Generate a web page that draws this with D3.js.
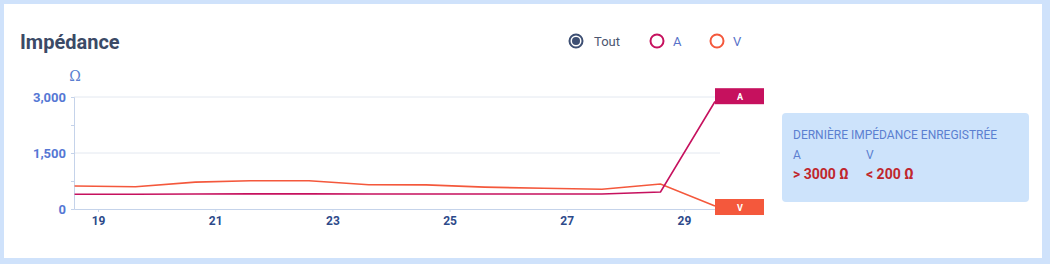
<!DOCTYPE html>
<html>
<head>
<meta charset="utf-8">
<script src="https://cdn.jsdelivr.net/npm/d3@7"></script>
<style>
  body { margin: 0; background: #cfe2fb; }
  svg { display: block; font-family: Roboto, "Noto Sans", sans-serif; }
</style>
</head>
<body>
<div id="chart"></div>
<script>
// days of the month (fractional = time of the reading)
const DAYS = [18.6, 19.64, 20.66, 21.6, 22.6, 23.62, 24.6, 25.6, 26.6, 27.6, 28.6, 29.53];
const SERIES_A = [395, 395, 400, 405, 405, 400, 400, 400, 400, 400, 455, 2880];
const SERIES_V = [615, 598, 720, 755, 758, 650, 645, 585, 555, 530, 670, 80];
const Y_TICKS = [0, 750, 1500, 2250, 3000];
const Y_LABELS = [0, 1500, 3000];
const X_TICKS = [19, 21, 23, 25, 27, 29];
const LEGEND = ["Tout", "A", "V"];
const LAST = { A: "> 3000 Ω", V: "< 200 Ω" };

const W = 1050, H = 264;
const COLORS = { A: "#c6115e", V: "#f4583c", Tout: "#3d4f73" };

const svg = d3.select("#chart").append("svg")
    .attr("width", W)
    .attr("height", H);

// card
svg.append("rect")
    .attr("x", 4).attr("y", 4)
    .attr("width", 1038).attr("height", 254)
    .attr("fill", "#fff");

svg.append("text")
    .attr("x", 20).attr("y", 49)
    .attr("font-size", 20)
    .attr("font-weight", 700)
    .attr("fill", "#3b4a66")
    .text("Impédance");

// legend (radio buttons)
const legendX = [576, 657, 717];
const leg = svg.append("g").selectAll("g")
    .data(LEGEND)
    .join("g")
    .attr("transform", (d, i) => `translate(${legendX[i]},41)`);
leg.append("circle")
    .attr("r", 6.5)
    .attr("fill", "none")
    .attr("stroke", d => COLORS[d])
    .attr("stroke-width", 2);
leg.filter(d => d === "Tout").append("circle")
    .attr("r", 4)
    .attr("fill", COLORS.Tout);
leg.append("text")
    .attr("x", (d, i) => i === 0 ? 18 : 16)
    .attr("y", 4.5)
    .attr("font-size", 13)
    .attr("fill", d => d === "Tout" ? "#4b5670" : "#5872c9")
    .text(d => d);

// plot
const x = d3.scaleLinear().domain([18.59, 29.53]).range([74, 715]);
const y = d3.scaleLinear().domain([0, 3000]).range([209, 97]);

svg.append("g").selectAll("line")
    .data(Y_LABELS.filter(v => v > 0))
    .join("line")
    .attr("x1", 74).attr("x2", 720)
    .attr("y1", d => y(d)).attr("y2", d => y(d))
    .attr("stroke", "#e3e8f0");

const yAxis = svg.append("g")
    .attr("transform", "translate(74,0)")
    .call(d3.axisLeft(y).tickValues(Y_TICKS).tickSize(3).tickPadding(5)
        .tickFormat(d => Y_LABELS.includes(d) ? d3.format(",")(d) : ""));
yAxis.select(".domain").attr("stroke", "#c5d3ea");
yAxis.selectAll(".tick line").attr("stroke", "#c5d3ea");
yAxis.selectAll("text")
    .attr("font-size", 13)
    .attr("font-weight", 700)
    .attr("font-family", "Roboto, sans-serif")
    .attr("fill", "#5577d4");

const xAxis = svg.append("g")
    .attr("transform", "translate(0,209)")
    .call(d3.axisBottom(x).tickValues(X_TICKS).tickSize(3).tickPadding(4).tickSizeOuter(0));
xAxis.select(".domain").attr("stroke", "#c5d3ea");
xAxis.selectAll(".tick line").attr("stroke", "#c5d3ea");
xAxis.selectAll("text")
    .attr("font-size", 12)
    .attr("font-weight", 700)
    .attr("font-family", "Roboto, sans-serif")
    .attr("fill", "#2d4a8a");

svg.append("text")
    .attr("x", 75).attr("y", 81)
    .attr("text-anchor", "middle")
    .attr("font-size", 14)
    .attr("font-family", "'DejaVu Serif', serif")
    .attr("fill", "#5b7fd0")
    .text("Ω");

const line = d3.line().x((d, i) => x(DAYS[i])).y(d => y(d));
[["V", SERIES_V], ["A", SERIES_A]].forEach(([k, vals]) => {
    svg.append("path")
        .datum(vals)
        .attr("fill", "none")
        .attr("stroke", COLORS[k])
        .attr("stroke-width", 1.6)
        .attr("d", line);
});

// end labels
[["A", SERIES_A], ["V", SERIES_V]].forEach(([k, vals]) => {
    const v = Math.max(60, Math.min(3000, vals[vals.length - 1]));
    const cy = k === "A" ? y(3000) - 0.8 : y(v) + 1;
    const g = svg.append("g").attr("transform", `translate(${x(DAYS[DAYS.length - 1])},${cy})`);
    g.append("rect")
        .attr("x", 0).attr("y", -8)
        .attr("width", 49).attr("height", 16)
        .attr("fill", COLORS[k]);
    g.append("text")
        .attr("x", 25).attr("y", 3.5)
        .attr("text-anchor", "middle")
        .attr("font-size", 9)
        .attr("font-weight", 700)
        .attr("fill", "#fff")
        .text(k);
});

// last reading panel
const panel = svg.append("g").attr("transform", "translate(782,113)");
panel.append("rect")
    .attr("width", 247).attr("height", 89)
    .attr("rx", 4)
    .attr("fill", "#cde3fb");
panel.append("text")
    .attr("x", 11).attr("y", 26)
    .attr("font-size", 12)
    .attr("fill", "#5b7fd0")
    .text("DERNIÈRE IMPÉDANCE ENREGISTRÉE");
["A", "V"].forEach((k, i) => {
    panel.append("text")
        .attr("x", 11 + i * 73).attr("y", 46)
        .attr("font-size", 12)
        .attr("fill", "#5b7fd0")
        .text(k);
    panel.append("text")
        .attr("x", 11 + i * 73).attr("y", 66)
        .attr("font-size", 14)
        .attr("font-weight", 700)
        .attr("fill", "#c0262d")
        .text(LAST[k]);
});
</script>
</body>
</html>
